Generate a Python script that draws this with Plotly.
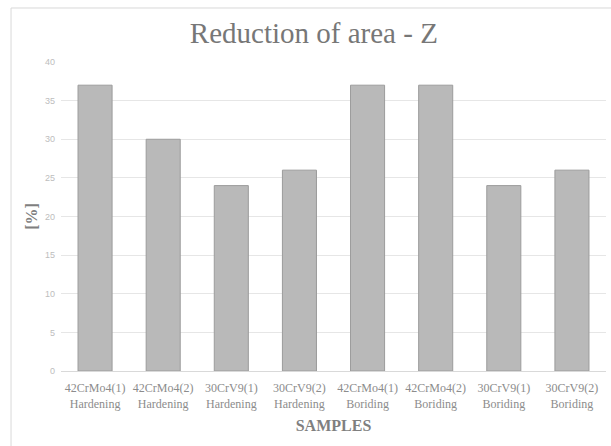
import plotly.graph_objects as go

# Sample labels (material + treatment) and reduction of area values
samples = [
    "42CrMo4(1)<br>Hardening", "42CrMo4(2)<br>Hardening",
    "30CrV9(1)<br>Hardening", "30CrV9(2)<br>Hardening",
    "42CrMo4(1)<br>Boriding", "42CrMo4(2)<br>Boriding",
    "30CrV9(1)<br>Boriding", "30CrV9(2)<br>Boriding",
]
reduction_z = [37, 30, 24, 26, 37, 37, 24, 26]
y_ticks = [0, 5, 10, 15, 20, 25, 30, 35, 40]

serif = "Liberation Serif, Times New Roman, serif"
sans = "Liberation Sans, Arial, sans-serif"

fig = go.Figure(
    go.Bar(
        x=samples,
        y=reduction_z,
        marker=dict(color="#b9b9b9", line=dict(color="#9c9c9c", width=1)),
        hoverinfo="x+y",
    )
)

fig.update_layout(
    width=611,
    height=446,
    margin=dict(l=61, r=5, t=62, b=75),
    paper_bgcolor="white",
    plot_bgcolor="white",
    bargap=0.5,
    showlegend=False,
    title=dict(
        text="Reduction of area - Z",
        x=0.464,
        xref="paper",
        xanchor="center",
        y=0.927,
        yref="container",
        yanchor="middle",
        font=dict(family=serif, size=29, color="#777777"),
    ),
    xaxis=dict(
        title=dict(
            text="<b>SAMPLES</b>",
            font=dict(family=serif, size=16, color="#7f7f7f"),
            standoff=10,
        ),
        tickfont=dict(family=serif, size=12, color="#8c8c8c"),
        showgrid=False,
        showline=False,
        ticks="",
        ticklabelstandoff=8,
    ),
    yaxis=dict(
        title=dict(
            text="<b>[%]</b>",
            font=dict(family=serif, size=16, color="#7f7f7f"),
            standoff=3,
        ),
        range=[0, 40],
        tickvals=y_ticks,
        tickfont=dict(family=sans, size=9, color="#bdbdbd"),
        showgrid=True,
        gridcolor="#e6e6e6",
        gridwidth=1,
        zeroline=True,
        zerolinecolor="#d9d9d9",
        zerolinewidth=1,
        showline=False,
        ticks="",
        ticklabelstandoff=5,
    ),
    shapes=[
        dict(
            type="rect",
            xref="paper",
            yref="paper",
            x0=-0.0917,
            x1=1.2,
            y0=-0.5,
            y1=1.1748,
            line=dict(color="#d9d9d9", width=1),
            fillcolor="rgba(0,0,0,0)",
            layer="below",
        )
    ],
)

fig.write_html("out.html")
